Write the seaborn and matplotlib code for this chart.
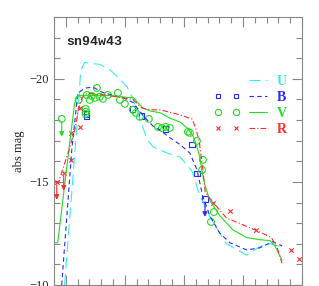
import numpy as np
import pandas as pd
import matplotlib
matplotlib.use("Agg")
import matplotlib.pyplot as plt
import seaborn as sns
from matplotlib.lines import Line2D
from matplotlib.legend_handler import HandlerTuple

# model light curves (day, abs mag)
u_day = [-1, 8.5, 11, 12.7, 16, 22, 29, 37, 44, 52, 57, 63, 69, 74, 80, 86, 97, 107, 113, 122, 136, 153, 164, 173, 183]
u_mag = [-10.0, -17.0, -19.0, -20.4, -20.8, -20.75, -20.7, -20.45, -20.1, -19.6, -19.0, -18.0, -17.05, -16.7,
         -16.55, -16.4, -16.2, -15.5, -14.4, -13.3, -12.0, -11.45, -11.85, -12.0, -11.85]

b_day = [-3.4, 5.1, 10.2, 16, 23, 31, 40, 48, 57, 63, 69, 74, 80, 88, 97, 105, 111, 116, 122, 130.5, 139, 153, 164, 175, 183]
b_mag = [-10.0, -16.55, -19.3, -19.55, -19.6, -19.35, -19.2, -19.1, -18.85, -18.4, -18.0, -17.7, -17.5, -17.15,
         -16.8, -16.4, -15.6, -14.3, -13.35, -12.5, -12.05, -11.7, -11.8, -12.1, -11.9]

v_day = [-9.3, -6.8, 3.4, 7.6, 10.2, 20, 37, 52, 57, 61, 65, 71, 80, 88, 97, 103, 108, 111, 113.5, 115,
         118, 122, 130.5, 141.5, 153, 164, 173, 177, 183]
v_mag = [-12.05, -12.05, -16.9, -18.85, -19.2, -19.2, -19.2, -19.1, -19.1, -18.85, -18.6, -18.45, -18.35, -18.1,
         -17.9, -17.6, -17.2, -16.7, -16.2, -15.6, -14.8, -14.1, -13.35, -12.67, -12.3, -12.2, -12.15, -11.9, -11.2]

r_day = [-9.3, -6.0, 3, 8, 11, 14, 18, 29, 46, 57, 64, 71, 80, 97, 107, 110, 113, 116, 118, 124, 136, 155, 167, 174, 179, 183]
r_mag = [-15.0, -15.0, -16.6, -17.6, -18.6, -19.1, -19.3, -19.25, -19.1, -19.0, -18.6, -18.5, -18.5, -18.25,
         -18.05, -17.6, -16.95, -15.6, -14.5, -14.05, -13.25, -12.8, -12.5, -12.3, -11.8, -11.05]

# observed points
b_obs_day = [17.8, 17.8, 56.8, 64.4, 84.7, 106.8, 111.0]
b_obs_mag = [-18.16, -18.3, -18.54, -18.2, -17.57, -16.8, -15.39]

v_obs_day = [11.0, 16.9, 16.9, 16.9, 17.8, 20.3, 22.0, 24.6, 26.3, 28.8, 31.4, 35.6, 44.1, 45.8, 50.0, 56.8,
             59.3, 62.7, 70.3, 78.0, 81.4, 84.7, 88.1, 103.4, 105.1, 111.0, 116.1, 115.3, 125.4, 122.9]
v_obs_mag = [-18.98, -18.54, -18.4, -18.3, -19.22, -18.98, -19.17, -19.08, -19.56, -19.13, -19.03, -19.22, -19.32,
             -18.98, -18.79, -18.5, -18.35, -18.16, -18.06, -17.67, -17.62, -17.67, -17.62, -17.43, -17.38, -16.99,
             -16.07, -15.58, -13.54, -13.06]

r_obs_day = [4.2, 4.2, 11.9, 11.9, 124.6, 139.0, 161.0, 190.7, 197.5]
r_obs_mag = [-17.38, -16.07, -18.59, -17.67, -13.98, -13.59, -12.67, -11.7, -11.26]

# upper limits (day, mag)
v_lim_day, v_lim_mag = [-3.4], [-18.06]
b_lim_day, b_lim_mag = [117.8], [-14.17]
r_lim_day, r_lim_mag = [-7.6, -1.7], [-15.0, -15.44]

c_u, c_b, c_v, c_r = "#33eeee", "#2a2aff", "#22dd22", "#ff2a2a"

sns.set_style("ticks")
plt.rcParams["font.family"] = ["Liberation Serif", "DejaVu Serif"]

fig = plt.figure(figsize=(3.19, 2.86), dpi=100)
ax = fig.add_axes([0.169, 0.0035, 0.778, 0.937])

lw = 0.8
sns.lineplot(x=u_day, y=u_mag, sort=False, color=c_u, lw=lw, ax=ax)
ax.lines[-1].set_dashes([10, 5])
sns.lineplot(x=b_day, y=b_mag, sort=False, color=c_b, lw=lw, ax=ax)
ax.lines[-1].set_dashes([4, 3])
sns.lineplot(x=v_day, y=v_mag, sort=False, color=c_v, lw=lw, ax=ax)
sns.lineplot(x=r_day, y=r_mag, sort=False, color=c_r, lw=lw, ax=ax)
ax.lines[-1].set_dashes([5, 2, 1, 2])

sns.scatterplot(x=b_obs_day, y=b_obs_mag, marker="s", s=14, facecolor="none", edgecolor=c_b, linewidth=0.8, ax=ax)
sns.scatterplot(x=v_obs_day, y=v_obs_mag, marker="o", s=24, facecolor="none", edgecolor=c_v, linewidth=0.8, ax=ax)
sns.scatterplot(x=r_obs_day, y=r_obs_mag, marker="x", s=10, color=c_r, linewidth=0.8, ax=ax)

# limits with arrows
sns.scatterplot(x=v_lim_day, y=v_lim_mag, marker="o", s=24, facecolor="none", edgecolor=c_v, linewidth=0.8, ax=ax)
sns.scatterplot(x=b_lim_day, y=b_lim_mag, marker="s", s=14, facecolor="none", edgecolor=c_b, linewidth=0.8, ax=ax)
sns.scatterplot(x=r_lim_day, y=r_lim_mag, marker="x", s=10, color=c_r, linewidth=0.8, ax=ax)
for days, mags, col in [(v_lim_day, v_lim_mag, c_v), (b_lim_day, b_lim_mag, c_b), (r_lim_day, r_lim_mag, c_r)]:
    for d, m in zip(days, mags):
        ax.annotate("", xy=(d, m + 1.0), xytext=(d, m),
                    arrowprops=dict(arrowstyle="-|>", color=col, lw=0.8, mutation_scale=7))

ax.set_xlim(-10, 200)
ax.set_ylim(-10, -23)
ax.set_xticks([0, 50, 100, 150, 200])
ax.set_xticks(np.arange(-10, 201, 10), minor=True)
ax.set_xticklabels([])
ax.set_yticks([-10, -15, -20])
ax.set_yticks(np.arange(-23, -9, 1), minor=True)
ax.tick_params(which="both", direction="in", top=True, right=True, color="#888888", width=0.8, labelsize=9)
ax.tick_params(which="major", length=7)
ax.tick_params(which="minor", length=4)
for sp in ax.spines.values():
    sp.set_color("#888888")
    sp.set_linewidth(0.8)
ax.set_ylabel("abs mag", fontsize=9, labelpad=3)
ax.set_xlabel("")

ax.text(0.05, 0.93, "sn94w43", transform=ax.transAxes, fontsize=9.5, fontweight="bold",
        family="Liberation Mono", va="top", ha="left")

# legend
h_u = (Line2D([], [], ls="none"), Line2D([], [], color=c_u, lw=lw, dashes=[10, 5]))
h_b = (Line2D([], [], ls="none", marker="s", ms=3.5, mfc="none", mec=c_b, mew=0.8),
       Line2D([], [], color=c_b, lw=lw, dashes=[4, 3]))
h_v = (Line2D([], [], ls="none", marker="o", ms=4.5, mfc="none", mec=c_v, mew=0.8),
       Line2D([], [], color=c_v, lw=lw))
h_r = (Line2D([], [], ls="none", marker="x", ms=3, mec=c_r, mew=0.8),
       Line2D([], [], color=c_r, lw=lw, dashes=[5, 2, 1, 2]))
leg = ax.legend([h_u, h_b, h_v, h_r], ["U", "B", "V", "R"], numpoints=2,
                handler_map={tuple: HandlerTuple(ndivide=None, pad=0.3)},
                loc="upper left", bbox_to_anchor=(0.595, 0.83), frameon=False,
                handlelength=4.1, handletextpad=0.4, labelspacing=0.22,
                prop={"size": 10, "weight": "bold"})
for t, c in zip(leg.get_texts(), [c_u, c_b, c_v, c_r]):
    t.set_color(c)

fig.savefig("out.png", dpi=100)
